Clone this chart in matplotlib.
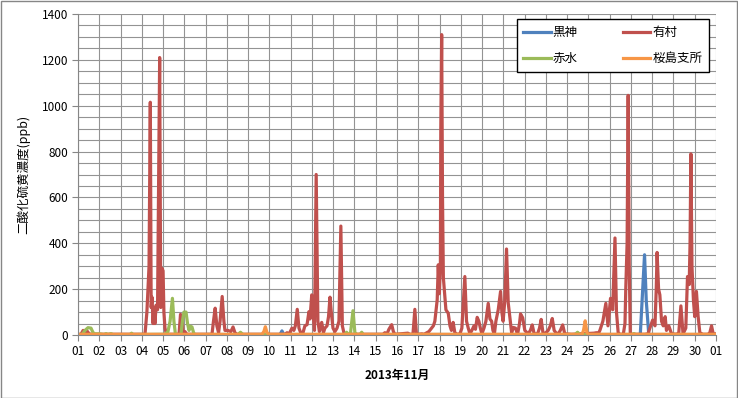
import matplotlib
matplotlib.use('Agg')
import matplotlib.pyplot as plt
from matplotlib.ticker import MultipleLocator
from matplotlib.patches import Rectangle

plt.rcParams['font.family'] = ['Noto Sans CJK JP', 'DejaVu Sans']

# 時刻 (11/1 0時からの経過日数) と濃度 (ppb)
t_kurokami = [0, 9.50, 9.59, 9.68, 26.44, 26.64, 26.72, 26.84, 30]
v_kurokami = [2, 2, 18, 2, 2, 350, 150, 2, 2]

t_arimura = [0, 0.14, 0.24, 0.33, 0.42, 0.52, 0.61,
             3.15, 3.24, 3.34, 3.40, 3.44, 3.48, 3.53, 3.57, 3.62, 3.67, 3.74,
             3.84, 3.89, 3.95, 4.00, 4.04, 4.09, 4.16,
             4.75, 4.82, 4.89, 4.94, 5.03, 5.12,
             6.30, 6.37, 6.45, 6.53, 6.61, 6.68, 6.78, 6.86, 6.91, 7.05, 7.19,
             7.29, 7.38, 7.47,
             9.73, 9.83, 9.92, 10.06, 10.15, 10.22, 10.31, 10.39, 10.48, 10.58,
             10.67, 10.77, 10.86, 10.91, 10.99, 11.05, 11.12, 11.20, 11.28,
             11.35, 11.46, 11.54, 11.61, 11.71, 11.78, 11.85, 11.92, 11.99,
             12.08, 12.18, 12.27, 12.36, 12.43, 12.52,
             14.34, 14.43, 14.53, 14.62, 14.75, 14.83, 14.90,
             15.51, 15.61, 15.75, 15.84, 15.91, 15.98, 16.17, 16.27, 16.41,
             16.50, 16.63, 16.71, 16.78, 16.89, 16.94, 16.99, 17.04, 17.06,
             17.10, 17.14, 17.18, 17.30, 17.41, 17.49, 17.56, 17.64, 17.72,
             17.82, 17.96, 18.05, 18.19, 18.27, 18.35, 18.43, 18.52, 18.62,
             18.69, 18.77, 18.85, 18.92, 18.99, 19.09, 19.18, 19.29, 19.37,
             19.45, 19.51, 19.58, 19.65, 19.76, 19.87, 19.93, 19.99, 20.07,
             20.15, 20.23, 20.31, 20.39, 20.47, 20.57, 20.67, 20.76, 20.81,
             20.91, 21.01, 21.17, 21.27, 21.36, 21.45, 21.61, 21.70, 21.78,
             21.87, 22.00, 22.11, 22.21, 22.30, 22.39, 22.47, 22.58, 22.68,
             22.79, 22.89, 23.21,
             24.26, 24.38, 24.45, 24.54, 24.68, 24.82, 24.92, 25.04, 25.14,
             25.25, 25.32, 25.40, 25.48, 25.64, 25.72, 25.76, 25.82, 25.87,
             25.92, 25.97,
             26.65, 26.80, 26.89, 27.02, 27.13, 27.19, 27.23, 27.30, 27.36,
             27.44, 27.52, 27.61, 27.67, 27.78, 27.91, 28.15, 28.25, 28.35,
             28.45, 28.58, 28.66, 28.74, 28.78, 28.82, 28.87, 28.94, 29.00,
             29.08, 29.16, 29.24, 29.38, 29.62, 29.71, 29.79, 29.87, 30]
v_arimura = [2, 3, 20, 12, 18, 6, 3,
             3, 100, 300, 1015, 120, 165, 50, 120, 50, 130, 110,
             1210, 120, 290, 280, 100, 30, 3,
             3, 90, 80, 10, 15, 3,
             3, 60, 117, 40, 10, 60, 168, 60, 20, 20, 15,
             35, 10, 3,
             3, 10, 3, 30, 20, 40, 112, 30, 8, 10,
             40, 45, 102, 70, 175, 100, 20, 700, 60,
             15, 55, 10, 30, 40, 80, 165, 90, 30,
             15, 30, 60, 475, 40, 3,
             3, 10, 5, 25, 45, 15, 3,
             8, 3, 3, 112, 10, 3, 5, 3, 10,
             15, 30, 40, 60, 153, 306, 180, 300, 900,
             1310, 600, 250, 110, 95, 40, 20, 55, 10,
             3, 5, 30, 255, 60, 30, 5, 20, 40,
             25, 77, 60, 30, 5, 30, 60, 138, 70,
             60, 20, 5, 60, 110, 190, 100, 60, 150,
             375, 140, 75, 10, 33, 30, 3, 50, 92,
             75, 20, 5, 20, 44, 5, 5, 30, 68,
             5, 10, 20, 40, 72, 20, 10, 5, 20,
             44, 5, 3,
             8, 10, 3, 20, 60, 138, 40, 160, 110,
             423, 100, 10, 3, 3, 50, 211, 400, 1045,
             300, 3,
             3, 5, 30, 65, 40, 200, 360, 200, 175,
             60, 40, 80, 20, 40, 5, 3, 10, 127,
             5, 30, 255, 220, 400, 790, 300, 150, 80,
             190, 80, 10, 3, 3, 10, 40, 5, 5]

t_akamizu = [0, 0.19, 0.33, 0.47, 0.61, 0.71, 0.80, 1.03, 1.22, 1.32, 1.41,
             1.55, 1.65, 2.44, 2.52, 2.59,
             4.09, 4.23, 4.33, 4.44, 4.51, 4.58, 4.70,
             4.84, 4.91, 4.98, 5.08, 5.15, 5.22, 5.29, 5.36, 5.45, 5.55,
             7.52, 7.64, 7.76,
             12.55, 12.63, 12.72, 12.81, 12.93, 13.02, 13.12, 13.26, 13.34, 13.42,
             23.37, 23.49, 23.60, 26.05, 26.14, 26.23, 30]
v_akamizu = [2, 2, 20, 32, 30, 10, 5, 5, 2, 6, 2,
             6, 2, 2, 8, 2,
             3, 15, 60, 160, 60, 5, 2,
             2, 60, 100, 100, 50, 20, 38, 35, 5, 2,
             2, 12, 2,
             2, 12, 2, 5, 106, 10, 2, 3, 12, 2,
             2, 12, 2, 2, 6, 2, 2]

t_sakurajima = [0, 8.65, 8.74, 8.81, 8.89, 8.98, 23.70, 23.77, 23.85, 23.93, 24.00, 30]
v_sakurajima = [3, 3, 15, 36, 10, 3, 3, 20, 62, 10, 3, 3]

day_labels = ['%02d' % d for d in range(1, 31)] + ['01']

c_blue = '#4F81BD'
c_red = '#C0504D'
c_green = '#9BBB59'
c_orange = '#F79646'

fig = plt.figure(figsize=(7.38, 3.98), dpi=100)
ax = fig.add_axes([78 / 738, 63 / 398, 638 / 738, 321 / 398])

lw = 2.3
l1, = ax.plot(t_kurokami, v_kurokami, color=c_blue, lw=lw, label='黒神', solid_joinstyle='round')
l2, = ax.plot(t_arimura, v_arimura, color=c_red, lw=lw, label='有村', solid_joinstyle='round')
l3, = ax.plot(t_akamizu, v_akamizu, color=c_green, lw=lw, label='赤水', solid_joinstyle='round')
l4, = ax.plot(t_sakurajima, v_sakurajima, color=c_orange, lw=lw, label='桜島支所', solid_joinstyle='round')

ax.set_xlim(0, 30)
ax.set_ylim(0, 1400)
ax.set_xticks(range(31))
ax.set_xticklabels(day_labels)
ax.yaxis.set_major_locator(MultipleLocator(200))
ax.yaxis.set_minor_locator(MultipleLocator(50))
ax.grid(True, which='both', color='#939393', lw=0.8)
ax.set_axisbelow(True)
ax.tick_params(axis='both', which='major', length=4, color='#868686',
               labelsize=8.5, pad=3)
ax.tick_params(axis='y', which='minor', length=0)
for s in ['top', 'right']:
    ax.spines[s].set_visible(False)
for s in ['left', 'bottom']:
    ax.spines[s].set_color('#868686')

ax.set_xlabel('2013年11月', fontsize=8.5, fontweight='bold', labelpad=8)
ax.set_ylabel('二酸化硫黄濃度(ppb)', fontsize=9, labelpad=8)

# 凡例は行ごとに 黒神・有村 / 赤水・桜島支所
leg = ax.legend([l1, l3, l2, l4], ['黒神', '赤水', '有村', '桜島支所'],
                ncol=2, loc='upper right', bbox_to_anchor=(709 / 738, 1 - 19 / 398),
                bbox_transform=fig.transFigure, borderaxespad=0, fancybox=False,
                edgecolor='black', fontsize=9, handlelength=2.2, handletextpad=0.15,
                columnspacing=3.6, labelspacing=1.05, borderpad=0.55, framealpha=1)
leg.get_frame().set_linewidth(1.0)

fig.patches.append(Rectangle((0.001, 0.001), 0.997, 0.997, transform=fig.transFigure,
                             fill=False, edgecolor='#868686', lw=1))

fig.savefig('out.png', dpi=100)
